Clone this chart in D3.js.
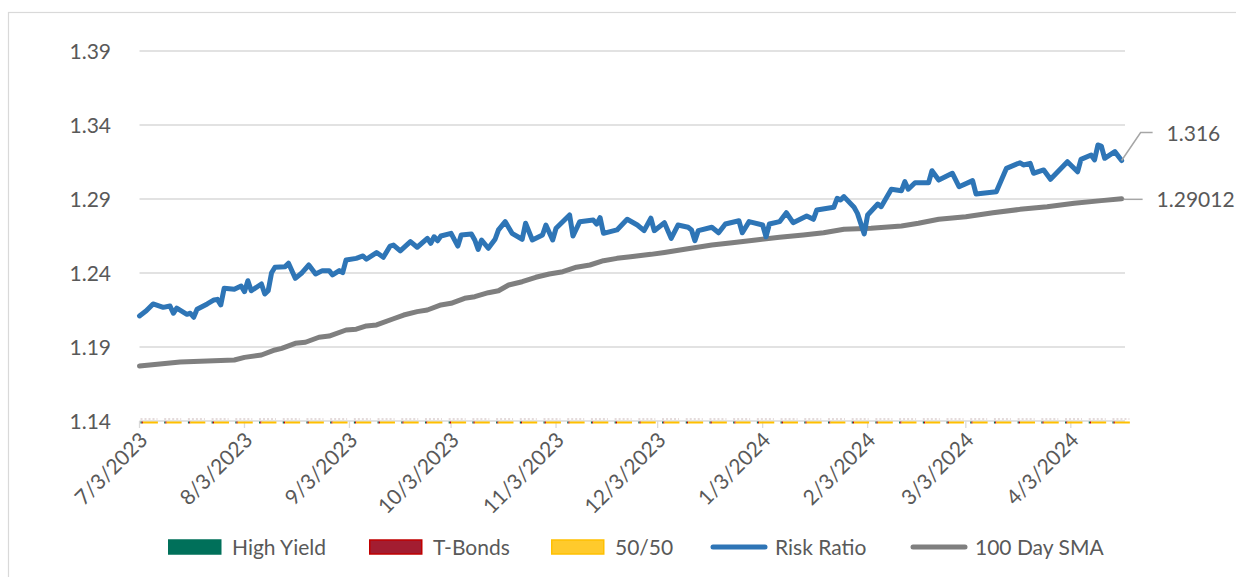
<!DOCTYPE html>
<html>
<meta charset="utf-8">
<style>
body { margin: 0; background: #fff; }
svg { display: block; font-family: Lato, "Open Sans", sans-serif; }
.grid line { stroke: #d9d9d9; stroke-width: 1.3; }
.lbl { fill: #595959; font-size: 21px; }
</style>
<body>
<svg width="1236" height="577"></svg>
<script src="https://cdn.jsdelivr.net/npm/d3@7"></script>
<script>

// Risk ratio (daily)
var riskDates = ["2023-07-03","2023-07-05","2023-07-07","2023-07-10","2023-07-12","2023-07-13","2023-07-14","2023-07-17","2023-07-18","2023-07-19",
  "2023-07-20","2023-07-23","2023-07-25","2023-07-26","2023-07-27","2023-07-28","2023-07-31","2023-08-02","2023-08-03","2023-08-04",
  "2023-08-05","2023-08-08","2023-08-09","2023-08-10","2023-08-11","2023-08-12","2023-08-15","2023-08-16","2023-08-18","2023-08-20",
  "2023-08-22","2023-08-24","2023-08-26","2023-08-28","2023-08-29","2023-08-31","2023-09-01","2023-09-02","2023-09-05","2023-09-07",
  "2023-09-08","2023-09-11","2023-09-13","2023-09-15","2023-09-16","2023-09-18","2023-09-21","2023-09-23","2023-09-26","2023-09-27",
  "2023-09-28","2023-09-29","2023-09-30","2023-10-03","2023-10-05","2023-10-06","2023-10-09","2023-10-10","2023-10-11","2023-10-12",
  "2023-10-14","2023-10-16","2023-10-17","2023-10-19","2023-10-21","2023-10-24","2023-10-25","2023-10-27","2023-10-30","2023-10-31",
  "2023-11-02","2023-11-03","2023-11-07","2023-11-08","2023-11-10","2023-11-14","2023-11-15","2023-11-16","2023-11-17","2023-11-21",
  "2023-11-24","2023-11-27","2023-11-29","2023-12-01","2023-12-02","2023-12-05","2023-12-07","2023-12-09","2023-12-12","2023-12-13",
  "2023-12-14","2023-12-15","2023-12-19","2023-12-21","2023-12-23","2023-12-27","2023-12-28","2023-12-30","2024-01-03","2024-01-04",
  "2024-01-05","2024-01-08","2024-01-10","2024-01-12","2024-01-16","2024-01-18","2024-01-19","2024-01-24","2024-01-25","2024-01-26",
  "2024-01-27","2024-01-30","2024-01-31","2024-02-02","2024-02-03","2024-02-06","2024-02-07","2024-02-10","2024-02-13","2024-02-14",
  "2024-02-15","2024-02-17","2024-02-21","2024-02-22","2024-02-24","2024-02-28","2024-03-01","2024-03-05","2024-03-06","2024-03-12",
  "2024-03-15","2024-03-19","2024-03-20","2024-03-22","2024-03-23","2024-03-26","2024-03-28","2024-04-02","2024-04-05","2024-04-06",
  "2024-04-09","2024-04-10","2024-04-11","2024-04-12","2024-04-13","2024-04-16","2024-04-18"];
var riskValues = [1.2110,1.2145,1.2191,1.2168,1.2177,1.2128,1.2162,1.2121,1.2128,1.2101,
  1.2155,1.2191,1.2218,1.2222,1.2184,1.2297,1.2290,1.2312,1.2274,1.2348,
  1.2280,1.2326,1.2258,1.2280,1.2402,1.2439,1.2443,1.2466,1.2364,1.2402,
  1.2454,1.2393,1.2416,1.2416,1.2387,1.2416,1.2402,1.2488,1.2499,1.2515,
  1.2493,1.2538,1.2506,1.2582,1.2589,1.2549,1.2612,1.2574,1.2634,1.2601,
  1.2645,1.2618,1.2650,1.2668,1.2582,1.2657,1.2664,1.2623,1.2560,1.2623,
  1.2567,1.2628,1.2691,1.2747,1.2668,1.2628,1.2736,1.2623,1.2657,1.2724,
  1.2623,1.2702,1.2792,1.2650,1.2747,1.2758,1.2731,1.2774,1.2668,1.2691,
  1.2763,1.2724,1.2686,1.2770,1.2686,1.2740,1.2634,1.2724,1.2709,1.2691,
  1.2618,1.2686,1.2709,1.2672,1.2731,1.2753,1.2672,1.2747,1.2724,1.2645,
  1.2731,1.2747,1.2807,1.2740,1.2785,1.2763,1.2826,1.2844,1.2905,1.2893,
  1.2916,1.2844,1.2803,1.2664,1.2792,1.2866,1.2848,1.2966,1.2956,1.3017,
  1.2966,1.3010,1.3010,1.3091,1.3028,1.3074,1.2983,1.3024,1.2934,1.2949,
  1.3107,1.3145,1.3130,1.3141,1.3074,1.3096,1.3033,1.3152,1.3084,1.3168,
  1.3197,1.3164,1.3265,1.3258,1.3175,1.3220,1.3160];

// 100 day simple moving average
var smaDates = ["2023-07-03","2023-07-15","2023-07-31","2023-08-03","2023-08-08","2023-08-12","2023-08-14","2023-08-18","2023-08-21","2023-08-25",
  "2023-08-28","2023-09-02","2023-09-05","2023-09-08","2023-09-11","2023-09-16","2023-09-19","2023-09-23","2023-09-26","2023-09-30",
  "2023-10-03","2023-10-07","2023-10-10","2023-10-14","2023-10-17","2023-10-20","2023-10-24","2023-10-28","2023-11-01","2023-11-05",
  "2023-11-09","2023-11-13","2023-11-17","2023-11-21","2023-11-25","2023-12-01","2023-12-05","2023-12-11","2023-12-19","2023-12-25",
  "2024-01-01","2024-01-08","2024-01-15","2024-01-21","2024-01-27","2024-02-04","2024-02-13","2024-02-18","2024-02-24","2024-03-03",
  "2024-03-11","2024-03-19","2024-03-27","2024-04-04","2024-04-12","2024-04-18"];
var smaValues = [1.1772,1.1799,1.1812,1.1830,1.1846,1.1880,1.1891,1.1925,1.1932,1.1966,
  1.1974,1.2015,1.2020,1.2042,1.2049,1.2091,1.2116,1.2139,1.2150,1.2184,
  1.2195,1.2229,1.2240,1.2267,1.2280,1.2319,1.2341,1.2371,1.2393,1.2409,
  1.2439,1.2454,1.2483,1.2499,1.2510,1.2526,1.2539,1.2560,1.2589,1.2605,
  1.2623,1.2641,1.2657,1.2672,1.2696,1.2702,1.2718,1.2736,1.2763,1.2780,
  1.2807,1.2830,1.2848,1.2871,1.2889,1.29012];

// weekly allocation columns (they sit on the axis floor)
var weekDates = ["2023-07-03","2023-07-10","2023-07-17","2023-07-24","2023-07-31","2023-08-07","2023-08-14","2023-08-21","2023-08-28","2023-09-04",
  "2023-09-11","2023-09-18","2023-09-25","2023-10-02","2023-10-09","2023-10-16","2023-10-23","2023-10-30","2023-11-06","2023-11-13",
  "2023-11-20","2023-11-27","2023-12-04","2023-12-11","2023-12-18","2023-12-25","2024-01-01","2024-01-08","2024-01-15","2024-01-22",
  "2024-01-29","2024-02-05","2024-02-12","2024-02-19","2024-02-26","2024-03-04","2024-03-11","2024-03-18","2024-03-25","2024-04-01",
  "2024-04-08","2024-04-15"];

var yTicks = [1.14, 1.19, 1.24, 1.29, 1.34, 1.39];
var xTicks = ["2023-07-03","2023-08-03","2023-09-03","2023-10-03","2023-11-03","2023-12-03","2024-01-03","2024-02-03","2024-03-03","2024-04-03"];
var xDomain = ["2023-07-03", "2024-04-19"];

var legendItems = [
  {name: "High Yield", type: "rect", fill: "#00705a", stroke: "#00705a"},
  {name: "T-Bonds", type: "rect", fill: "#a31d31", stroke: "#c00000"},
  {name: "50/50", type: "rect", fill: "#ffca2c", stroke: "#ffc000"},
  {name: "Risk Ratio", type: "line", stroke: "#2e75b6"},
  {name: "100 Day SMA", type: "line", stroke: "#7f7f7f"}
];

var parse = d3.timeParse("%Y-%m-%d");
var fmt = d3.timeFormat("%-m/%-d/%Y");

var svg = d3.select("svg");

var x = d3.scaleTime()
    .domain(xDomain.map(parse))
    .range([139.5, 1125]);

var y = d3.scaleLinear()
    .domain([1.14, 1.39])
    .range([421, 51]);

// outer chart frame
svg.append("rect")
    .attr("x", 8.5).attr("y", 12.5)
    .attr("width", 1240).attr("height", 600)
    .attr("fill", "none")
    .attr("stroke", "#d9d9d9")
    .attr("stroke-width", 1.2);

// gridlines
svg.append("g").attr("class", "grid")
  .selectAll("line")
  .data(yTicks)
  .enter().append("line")
    .attr("x1", x.range()[0]).attr("x2", x.range()[1])
    .attr("y1", function(d) { return y(d); })
    .attr("y2", function(d) { return y(d); });

// y labels
svg.append("g")
  .selectAll("text")
  .data(yTicks)
  .enter().append("text")
    .attr("class", "lbl")
    .attr("x", 111)
    .attr("y", function(d) { return y(d); })
    .attr("dy", "0.36em")
    .attr("text-anchor", "end")
    .text(function(d) { return d.toFixed(2); });

// x ticks + rotated labels
var xt = svg.append("g");
xt.selectAll("line")
  .data(xTicks)
  .enter().append("line")
    .attr("x1", function(d) { return x(parse(d)); })
    .attr("x2", function(d) { return x(parse(d)); })
    .attr("y1", y(1.14)).attr("y2", y(1.14) + 7)
    .attr("stroke", "#d9d9d9")
    .attr("stroke-width", 1.3);
xt.selectAll("text")
  .data(xTicks)
  .enter().append("text")
    .attr("class", "lbl")
    .attr("text-anchor", "end")
    .attr("dy", "0.36em")
    .attr("transform", function(d) {
      return "translate(" + (x(parse(d)) + 4) + "," + (y(1.14) + 15) + ") rotate(-45)";
    })
    .text(function(d) { return fmt(parse(d)); });

// allocation columns on the floor
var cols = svg.append("g");
weekDates.forEach(function(d) {
  var x0 = x(parse(d));
  cols.append("line")
      .attr("x1", x0 + 1).attr("x2", x0 + 18)
      .attr("y1", y(1.14) - 2).attr("y2", y(1.14) - 2)
      .attr("stroke", "#c9b7b7").attr("stroke-width", 1)
      .attr("stroke-dasharray", "2,2");
  cols.append("rect").attr("x", x0 + 1).attr("y", y(1.14) + 0.5).attr("width", 1.2).attr("height", 2).attr("fill", "#00705a");
  cols.append("rect").attr("x", x0 + 2.2).attr("y", y(1.14) + 0.5).attr("width", 1.2).attr("height", 2).attr("fill", "#c00000");
  cols.append("rect").attr("x", x0 + 3.4).attr("y", y(1.14) + 0.5).attr("width", 15).attr("height", 2).attr("fill", "#ffc000");
});

var line = d3.line()
    .x(function(d) { return x(d[0]); })
    .y(function(d) { return y(d[1]); });

var smaData = smaDates.map(function(d, i) { return [parse(d), smaValues[i]]; });
var riskData = riskDates.map(function(d, i) { return [parse(d), riskValues[i]]; });

svg.append("path")
    .datum(smaData)
    .attr("d", line)
    .attr("fill", "none")
    .attr("stroke", "#7f7f7f")
    .attr("stroke-width", 5)
    .attr("stroke-linejoin", "round")
    .attr("stroke-linecap", "round");

svg.append("path")
    .datum(riskData)
    .attr("d", line)
    .attr("fill", "none")
    .attr("stroke", "#2e75b6")
    .attr("stroke-width", 5)
    .attr("stroke-linejoin", "round")
    .attr("stroke-linecap", "round");

// data labels with leader lines
var lastRisk = riskData[riskData.length - 1],
    lastSma = smaData[smaData.length - 1];
var rx = x(lastRisk[0]), ry = y(lastRisk[1]);
svg.append("polyline")
    .attr("points", [[rx, ry], [rx + 19, ry - 28], [rx + 31, ry - 28]].join(" "))
    .attr("fill", "none").attr("stroke", "#a6a6a6").attr("stroke-width", 1.5);
svg.append("text")
    .attr("class", "lbl")
    .attr("x", rx + 45).attr("y", ry - 27)
    .attr("dy", "0.36em")
    .text(lastRisk[1].toFixed(3));

var sx = x(lastSma[0]), sy = y(lastSma[1]);
svg.append("line")
    .attr("x1", sx + 2).attr("x2", sx + 21)
    .attr("y1", sy + 0.5).attr("y2", sy + 0.5)
    .attr("stroke", "#a6a6a6").attr("stroke-width", 1.5);
svg.append("text")
    .attr("class", "lbl")
    .attr("x", sx + 35).attr("y", sy + 1)
    .attr("dy", "0.36em")
    .text(String(lastSma[1]));

// legend
var legX = [168, 369, 551, 711, 911];
var leg = svg.append("g");
legendItems.forEach(function(d, i) {
  var g = leg.append("g").attr("transform", "translate(" + legX[i] + ",547)");
  if (d.type == "rect") {
    g.append("rect")
        .attr("x", 0.75).attr("y", -7)
        .attr("width", 52).attr("height", 14)
        .attr("fill", d.fill)
        .attr("stroke", d.stroke).attr("stroke-width", 1.5);
  } else {
    g.append("line")
        .attr("x1", 2).attr("x2", 54)
        .attr("stroke", d.stroke).attr("stroke-width", 5)
        .attr("stroke-linecap", "round");
  }
  g.append("text")
      .attr("class", "lbl")
      .attr("x", 64).attr("dy", "0.36em")
      .text(d.name);
});

</script>
</body>
</html>
